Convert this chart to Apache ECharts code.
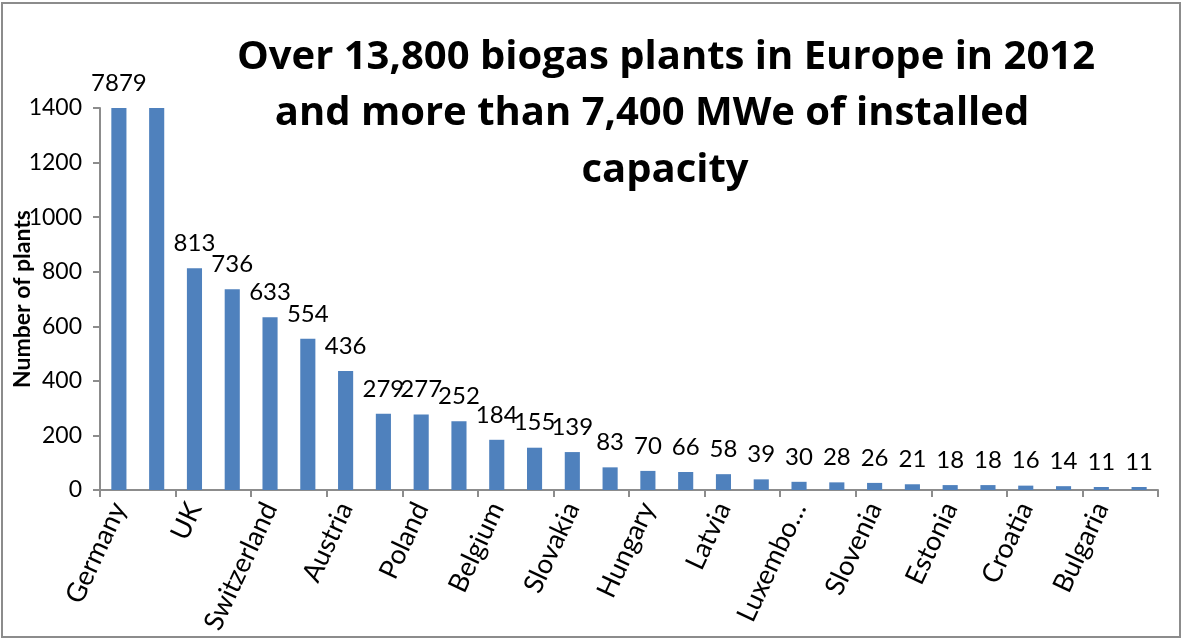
<!DOCTYPE html>
<html>
<head>
    <meta charset="utf-8">
    <title>Biogas plants in Europe 2012</title>
    <script src="https://cdn.jsdelivr.net/npm/echarts@6/dist/echarts.min.js"></script>
    <style>
        html, body { margin: 0; padding: 0; background: #fff; }
        #main { position: absolute; left: 0; top: 0; width: 1182px; height: 639px; }
        /* frame round the whole chart, as in the Excel picture */
        #frame {
            position: absolute; left: 1px; top: 2px;
            width: 1176px; height: 632px;
            border: 2px solid #8c8c8c;
            pointer-events: none;
        }
    </style>
</head>
<body>
<div id="main"></div>
<div id="frame"></div>
<script>
    // countries, sorted by number of plants (only every other name is printed)
    var countries = ['Germany', 'Italy', 'UK', 'France', 'Switzerland', 'Czech Republic',
        'Austria', 'Netherlands', 'Poland', 'Sweden', 'Belgium', 'Denmark', 'Slovakia',
        'Spain', 'Hungary', 'Finland', 'Latvia', 'Greece', 'Luxembo\u2026', 'Portugal',
        'Slovenia', 'Ireland', 'Estonia', 'Lithuania', 'Croatia', 'Cyprus', 'Bulgaria', 'Romania'];
    // number of plants; the first two run off the top of the axis
    var plants = [7879, 1500, 813, 736, 633, 554, 436, 279, 277, 252, 184, 155, 139,
        83, 70, 66, 58, 39, 30, 28, 26, 21, 18, 18, 16, 14, 11, 11];
    // labels hidden in the original (clipped above the plot)
    var hiddenLabels = ['Italy'];
    var yTicks = [0, 200, 400, 600, 800, 1000, 1200, 1400];

    var font = 'Lato, "Open Sans", sans-serif';
    var titleFont = '"Open Sans", Lato, sans-serif';
    var axisGrey = '#8c8c8c';

    var myChart = echarts.init(document.getElementById('main'));

    var barData = [];
    for (var i = 0; i < plants.length; i++) {
        var item = { value: plants[i] };
        if (hiddenLabels.indexOf(countries[i]) >= 0) {
            item.label = { show: false };
        }
        barData.push(item);
    }

    var titleStyle = { fontFamily: titleFont, fontWeight: 'bold', fontSize: 40, lineHeight: 40, color: '#000' };

    var option = {
        animation: false,
        title: [
            { text: 'Over 13,800 biogas plants in Europe in 2012', left: 666, top: 38,
              textAlign: 'center', padding: 0, textStyle: titleStyle },
            { text: 'and more than 7,400 MWe of installed', left: 652, top: 94,
              textAlign: 'center', padding: 0, textStyle: titleStyle },
            { text: 'capacity', left: 665, top: 151,
              textAlign: 'center', padding: 0, textStyle: titleStyle }
        ],
        grid: {
            left: 100,
            right: 24,
            top: 108,
            bottom: 149,
            containLabel: false,
            outerBoundsMode: 'none'
        },
        xAxis: {
            type: 'category',
            data: countries,
            boundaryGap: true,
            axisLine: { lineStyle: { color: axisGrey, width: 2 } },
            axisTick: { show: true, alignWithLabel: false, length: 7, lineStyle: { color: axisGrey, width: 2 } },
            axisLabel: {
                interval: 1,
                rotate: 65,
                margin: 14,
                fontFamily: font,
                fontSize: 27,
                color: '#000'
            },
            splitLine: { show: false }
        },
        yAxis: {
            type: 'value',
            min: yTicks[0],
            max: yTicks[yTicks.length - 1],
            interval: yTicks[1] - yTicks[0],
            name: 'Number of plants',
            nameLocation: 'middle',
            nameGap: 66,
            nameMoveOverlap: false,
            nameTextStyle: { fontFamily: font, fontWeight: 'bold', fontSize: 23, color: '#000' },
            axisLine: { show: true, lineStyle: { color: axisGrey, width: 2 } },
            axisTick: { show: true, length: 7, lineStyle: { color: axisGrey, width: 2 } },
            axisLabel: {
                margin: 18, fontFamily: font, fontSize: 23, color: '#000',
                formatter: function (v) { return String(v); }
            },
            splitLine: { show: false }
        },
        series: [
            {
                name: 'Number of plants',
                type: 'bar',
                data: barData,
                barWidth: '40%',
                clip: true,
                itemStyle: { color: '#4f81bd' },
                label: {
                    show: true,
                    position: 'top',
                    distance: 13,
                    fontFamily: font,
                    fontSize: 24,
                    color: '#000'
                }
            }
        ]
    };

    myChart.setOption(option);
</script>
</body>
</html>
